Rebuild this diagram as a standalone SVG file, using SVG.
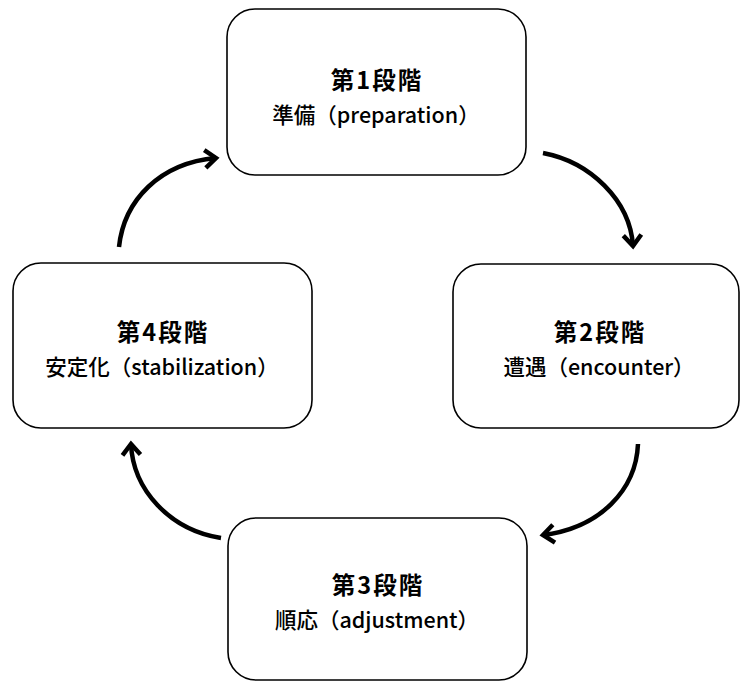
<svg xmlns="http://www.w3.org/2000/svg" width="741" height="681" viewBox="0 0 741 681">
<style>
.box{fill:#fff;stroke:#000;stroke-width:1.6}
.t1{font-family:"Noto Sans CJK JP","Noto Sans",sans-serif;font-size:23.5px;font-weight:700;letter-spacing:2px;text-anchor:middle;fill:#000}
.t2{font-family:"Noto Sans CJK JP","Noto Sans",sans-serif;font-size:21.5px;font-weight:500;text-anchor:middle;fill:#000}
.arr{fill:none;stroke:#000;stroke-width:4.5;marker-end:url(#ah)}
</style>
<defs>
<marker id="ah" markerUnits="userSpaceOnUse" viewBox="-14 -12 18 24" refX="0" refY="0" markerWidth="18" markerHeight="24" orient="auto">
<path d="M-11,-9 L0,0 L-11,9" fill="none" stroke="#000" stroke-width="4.5" stroke-linejoin="miter"/>
</marker>
</defs>
<rect width="741" height="681" fill="#fff"/>
<g id="connectors">
<path class="arr" d="M119,247 C124,200 160,163 216,158"/>
<path class="arr" d="M543,153 C590,162 630,200 633,246"/>
<path class="arr" d="M638,444 C636,490 600,528 543,535"/>
<path class="arr" d="M221,538 C170,530 133,490 131,444"/>
</g>
<g id="stage1">
<rect class="box" x="227" y="9" width="299" height="166" rx="28"/>
<text class="t1" x="377" y="89">第1段階</text>
<text class="t2" x="376" y="123">準備（preparation）</text>
</g>
<g id="stage2">
<rect class="box" x="453" y="264" width="286" height="164" rx="28"/>
<text class="t1" x="600" y="341">第2段階</text>
<text class="t2" x="599" y="375">遭遇（encounter）</text>
</g>
<g id="stage3">
<rect class="box" x="228" y="518" width="299" height="162" rx="28"/>
<text class="t1" x="378" y="594">第3段階</text>
<text class="t2" x="377" y="628">順応（adjustment）</text>
</g>
<g id="stage4">
<rect class="box" x="13" y="263" width="299" height="165" rx="28"/>
<text class="t1" x="163" y="341">第4段階</text>
<text class="t2" x="162" y="375">安定化（stabilization）</text>
</g>
</svg>
